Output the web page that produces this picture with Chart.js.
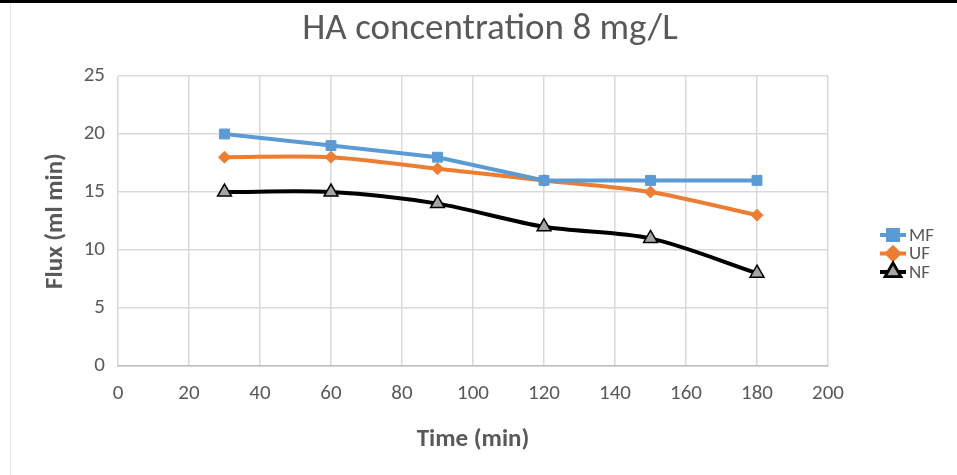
<!DOCTYPE html>
<html>
<head>
<meta charset="utf-8">
<script src="https://cdn.jsdelivr.net/npm/chart.js@4.4.1/dist/chart.umd.min.js"></script>
<style>
  html, body { margin: 0; padding: 0; background: #fff; }
  #wrap { position: relative; width: 957px; height: 475px; overflow: hidden; }
  #topbar { position: absolute; left: 0; top: 0; width: 957px; height: 3px; background: #000; }
  #leftline { position: absolute; left: 10px; top: 3px; width: 1px; height: 472px; background: #e6e6e6; }
  canvas { position: absolute; left: 0; top: 0; }
</style>
</head>
<body>
<div id="wrap">
  <canvas id="chart" width="957" height="475"></canvas>
  <div id="topbar"></div>
  <div id="leftline"></div>
</div>
<script>
const times = [30, 60, 90, 120, 150, 180];
const mfFlux = [20, 19, 18, 16, 16, 16];
const ufFlux = [18, 18, 17, 16, 15, 13];
const nfFlux = [15, 15, 14, 12, 11, 8];
const seriesNames = ['MF', 'UF', 'NF'];
const chartTitle = 'HA concentration 8 mg/L';

const grey = '#595959';
const font = "Calibri, Carlito, 'Open Sans', sans-serif";

const toPoints = (ys) => times.map((t, i) => ({ x: t, y: ys[i] }));

// title and legend drawn by hand: the title is centred on the page, not the plot,
// and the legend marker sits on a short line like the Excel original
const extras = {
  id: 'extras',
  afterDraw(chart) {
    const ctx = chart.ctx;
    ctx.save();
    ctx.fillStyle = grey;
    ctx.font = "37px " + font;
    ctx.textAlign = 'center';
    ctx.textBaseline = 'middle';
    ctx.fillText(chartTitle, 490, 30);
    ctx.restore();

    const x0 = 880, y0 = 235, step = 18.5;
    chart.data.datasets.forEach((ds, i) => {
      const y = y0 + i * step;
      ctx.save();
      ctx.strokeStyle = ds.borderColor;
      ctx.lineWidth = 4;
      ctx.beginPath();
      ctx.moveTo(x0, y);
      ctx.lineTo(x0 + 26, y);
      ctx.stroke();
      Chart.helpers.drawPoint(ctx, {
        pointStyle: ds.pointStyle,
        radius: ds.pointRadius,
        borderWidth: ds.pointBorderWidth
      }, x0 + 13, y);
      ctx.fillStyle = ds.pointBackgroundColor;
      ctx.strokeStyle = ds.pointBorderColor;
      ctx.lineWidth = ds.pointBorderWidth;
      ctx.fill();
      ctx.stroke();
      ctx.fillStyle = grey;
      ctx.font = "19px " + font;
      ctx.textBaseline = 'middle';
      ctx.fillText(ds.label, x0 + 29, y + 1);
      ctx.restore();
    });
  }
};

new Chart(document.getElementById('chart'), {
  type: 'line',
  data: {
    datasets: [
      {
        label: seriesNames[0],
        data: toPoints(mfFlux),
        borderColor: '#5b9bd5',
        borderWidth: 4,
        tension: 0,
        pointStyle: 'rect',
        pointRadius: 7,
        pointBackgroundColor: '#5b9bd5',
        pointBorderColor: '#5b9bd5',
        pointBorderWidth: 1
      },
      {
        label: seriesNames[1],
        data: toPoints(ufFlux),
        borderColor: '#ed7d31',
        borderWidth: 4,
        tension: 0.3,
        pointStyle: 'rectRot',
        pointRadius: 6,
        pointBackgroundColor: '#ed7d31',
        pointBorderColor: '#ed7d31',
        pointBorderWidth: 1
      },
      {
        label: seriesNames[2],
        data: toPoints(nfFlux),
        borderColor: '#000000',
        borderWidth: 4,
        tension: 0.3,
        pointStyle: 'triangle',
        pointRadius: 8,
        pointBackgroundColor: '#a5a5a5',
        pointBorderColor: '#000000',
        pointBorderWidth: 1.5
      }
    ]
  },
  options: {
    responsive: false,
    animation: false,
    layout: { padding: { left: 41, right: 129, top: 76, bottom: 20 } },
    plugins: {
      legend: { display: false },
      tooltip: { enabled: false },
      title: { display: false }
    },
    scales: {
      x: {
        type: 'linear',
        min: 0,
        max: 200,
        ticks: { stepSize: 20, color: grey, font: { family: font, size: 21 }, padding: 15 },
        grid: { color: '#d9d9d9', lineWidth: 1.5, drawTicks: false },
        border: { color: '#bfbfbf', width: 1.5 },
        title: {
          display: true,
          text: 'Time (min)',
          color: grey,
          font: { family: font, size: 25, weight: 'bold' },
          padding: { top: 0, bottom: 0 }
        },
        afterFit(scale) { scale.height = 89; }
      },
      y: {
        min: 0,
        max: 25,
        ticks: { stepSize: 5, color: grey, font: { family: font, size: 21 }, padding: 13 },
        grid: { color: '#d9d9d9', lineWidth: 1.5, drawTicks: false },
        border: { display: false },
        title: {
          display: true,
          text: 'Flux (ml min)',
          color: grey,
          font: { family: font, size: 25, weight: 'bold' },
          padding: { top: 0, bottom: 0 }
        },
        afterFit(scale) { scale.width = 77; }
      }
    }
  },
  plugins: [extras]
});
</script>
</body>
</html>
